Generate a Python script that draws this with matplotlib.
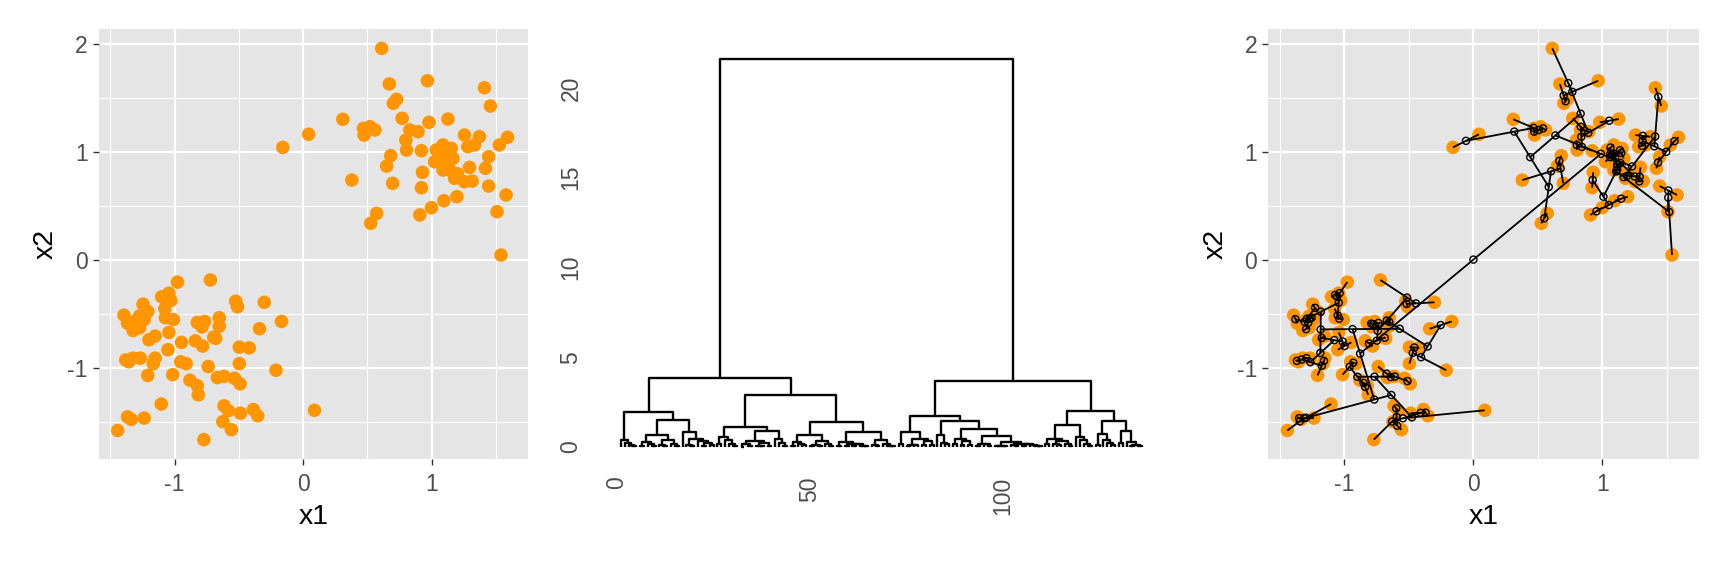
import numpy as np
import matplotlib
matplotlib.use("Agg")
import matplotlib.pyplot as plt
from matplotlib.collections import LineCollection

plt.rcParams["font.family"] = ["Liberation Sans", "DejaVu Sans"]
plt.rcParams["axes.unicode_minus"] = False

# ---- data (two groups of points, x1 / x2) ----
UP_X1 = [0.611, 0.670, 0.967, 1.410, 1.456, 0.727, 0.701, 0.309, 0.770, 1.126,
         0.979, 0.043, -0.158, 0.469, 0.520, 0.559, 0.474, 0.830, 0.894, 0.799,
         0.804, 0.920, 1.255, 1.371, 1.590, 1.526, 1.281, 1.333, 1.088, 1.152,
         1.036, 1.023, 1.088, 1.165, 1.088, 1.139, 1.178, 1.255, 1.315, 1.294,
         1.418, 1.443, 1.443, 1.578, 1.196, 1.095, 0.998, 0.907, 1.508, 0.572,
         0.526, 1.539, 0.379, 0.696, 0.650, 0.681, 0.920, 0.928, 1.060, 1.120,
         1.100, 1.200, 1.130, 1.070]
UP_X2 = [1.961, 1.631, 1.661, 1.596, 1.427, 1.489, 1.452, 1.304, 1.313, 1.306,
         1.276, 1.165, 1.044, 1.220, 1.235, 1.205, 1.158, 1.205, 1.189, 1.112,
         1.019, 1.013, 1.158, 1.143, 1.137, 1.066, 1.050, 1.066, 1.066, 1.035,
         1.019, 0.911, 0.973, 0.942, 0.834, 0.834, 0.757, 0.726, 0.732, 0.859,
         0.850, 0.957, 0.686, 0.603, 0.587, 0.550, 0.485, 0.418, 0.448, 0.433,
         0.341, 0.047, 0.741, 0.711, 0.871, 0.967, 0.670, 0.813, 0.990, 1.000,
         0.900, 0.800, 0.880, 0.940]

LO_X1 = [-0.977, -0.721, -1.100, -1.043, -1.028, -1.075, -1.245, -0.524, -0.510, -0.302,
         -1.393, -1.208, -1.271, -1.365, -1.322, -1.271, -1.236, -1.071, -1.009, -1.043,
         -0.823, -0.766, -0.786, -0.652, -0.652, -0.168, -0.339, -1.199, -1.151, -0.695,
         -0.946, -0.838, -0.781, -1.051, -0.496, -0.419, -1.379, -1.322, -1.265, -1.356,
         -1.151, -1.165, -0.952, -0.909, -0.738, -0.496, -1.208, -1.014, -0.880, -0.667,
         -0.615, -0.533, -0.490, -0.211, -0.823, -0.815, -1.103, 0.088, -0.615, -0.581,
         -0.487, -0.387, -0.353, -1.365, -1.336, -1.236, -1.442, -0.624, -0.558, -0.772,
         -0.680, -1.300]
LO_X2 = [-0.204, -0.184, -0.340, -0.306, -0.374, -0.450, -0.408, -0.381, -0.432, -0.391,
         -0.510, -0.476, -0.517, -0.585, -0.653, -0.626, -0.551, -0.534, -0.551, -0.670,
         -0.578, -0.568, -0.619, -0.534, -0.612, -0.568, -0.636, -0.738, -0.704, -0.714,
         -0.762, -0.748, -0.796, -0.830, -0.806, -0.813, -0.925, -0.908, -0.908, -0.942,
         -0.908, -0.959, -0.942, -0.959, -0.986, -0.959, -1.068, -1.061, -1.112, -1.088,
         -1.078, -1.095, -1.146, -1.020, -1.163, -1.248, -1.333, -1.391, -1.350, -1.395,
         -1.418, -1.384, -1.442, -1.452, -1.476, -1.463, -1.578, -1.497, -1.571, -1.663,
         -0.725, -0.560]

X_TICKS = [-1, 0, 1]
Y_TICKS = [-1, 0, 1, 2]
DENDRO_X_TICKS = [0, 50, 100]
DENDRO_Y_TICKS = [0, 5, 10, 15, 20]

ORANGE = "#FF9500"
pts = np.column_stack([UP_X1 + LO_X1, UP_X2 + LO_X2])
n = len(pts)


def ward_d2(p):
    """Agglomerative clustering, Ward (squared distances), Lance-Williams updates."""
    m = len(p)
    D = np.full((2 * m - 1, 2 * m - 1), np.inf)
    D[:m, :m] = ((p[:, None, :] - p[None, :, :]) ** 2).sum(-1)
    np.fill_diagonal(D, np.inf)
    size = np.zeros(2 * m - 1)
    size[:m] = 1
    active = list(range(m))
    merges = []
    for k in range(m - 1):
        sub = D[np.ix_(active, active)]
        a, b = np.unravel_index(np.argmin(sub), sub.shape)
        i, j = active[a], active[b]
        dij = D[i, j]
        new = m + k
        for q in active:
            if q in (i, j):
                continue
            nq = size[q]
            val = ((size[i] + nq) * D[q, i] + (size[j] + nq) * D[q, j] - nq * dij) / (size[i] + size[j] + nq)
            D[q, new] = D[new, q] = val
        size[new] = size[i] + size[j]
        active.remove(i)
        active.remove(j)
        active.append(new)
        # R-style ordering: singletons first, then older clusters
        i, j = sorted((i, j), key=lambda c: (c >= m, c))
        merges.append((i, j, np.sqrt(dij)))
    return merges, size


merges, sizes = ward_d2(pts)
children = {n + k: (i, j) for k, (i, j, h) in enumerate(merges)}
height = {n + k: h for k, (i, j, h) in enumerate(merges)}
root = n + len(merges) - 1
# bigger group on the left at the top split, as in the original
l, r = children[root]
if sizes[l] < sizes[r]:
    children[root] = (r, l)

# leaf order
order = []
stack = [root]
while stack:
    c = stack.pop()
    if c < n:
        order.append(c)
    else:
        l, r = children[c]
        stack.append(r)
        stack.append(l)
xpos = {leaf: k + 1 for k, leaf in enumerate(order)}
for c in range(n, root + 1):
    l, r = children[c]
    xpos[c] = (xpos[l] + xpos[r]) / 2
for c in range(n):
    height[c] = 0.0

# centroid of each node in data space
members = {c: [c] for c in range(n)}
cent = {c: pts[c] for c in range(n)}
for c in range(n, root + 1):
    l, r = children[c]
    members[c] = members[l] + members[r]
    cent[c] = pts[members[c]].mean(axis=0)

# ---- figure ----
W, H = 1728, 576
fig = plt.figure(figsize=(W / 100, H / 100), dpi=100)


def gg_axes(rect):
    ax = fig.add_axes(rect)
    ax.set_facecolor("#E5E5E5")
    for s in ax.spines.values():
        s.set_visible(False)
    ax.set_xlim(-1.591, 1.748)
    ax.set_ylim(-1.844, 2.143)
    ax.set_xticks(X_TICKS)
    ax.set_yticks(Y_TICKS)
    ax.set_xticks([-1.5, -0.5, 0.5, 1.5], minor=True)
    ax.set_yticks([-1.5, -0.5, 0.5, 1.5], minor=True)
    ax.grid(which="major", color="white", linewidth=1.6)
    ax.grid(which="minor", color="white", linewidth=0.8)
    ax.set_axisbelow(True)
    ax.tick_params(which="major", length=4.3, width=1.0, color="#333333",
                   labelcolor="#4D4D4D", labelsize=16.5, pad=3.5)
    ax.tick_params(axis="x", which="major", pad=5.5)
    ax.tick_params(which="minor", length=0)
    ax.set_xlabel("x1", fontsize=20.5, labelpad=6)
    ax.set_ylabel("x2", fontsize=20.5, labelpad=6)
    return ax


ax1 = gg_axes([98.5 / W, 1 - 459.2 / H, 429.4 / W, 430.5 / H])
ax1.scatter(pts[:, 0], pts[:, 1], s=95, color=ORANGE, edgecolors="none", zorder=3)

# dendrogram
ax2 = fig.add_axes([595 / W, 1 - 460 / H, 575 / W, 430 / H])
segs = []
for c in range(n, root + 1):
    l, r = children[c]
    h = height[c]
    segs.append([(xpos[l], height[l]), (xpos[l], h), (xpos[r], h), (xpos[r], height[r])])
ax2.add_collection(LineCollection(segs, colors="black", linewidths=1.7))
ax2.set_xlim(-5.70, 143.26)
ax2.set_ylim(-0.724, 23.23)
for s in ax2.spines.values():
    s.set_visible(False)
ax2.set_xticks(DENDRO_X_TICKS)
ax2.set_yticks(DENDRO_Y_TICKS)
ax2.tick_params(length=0, labelsize=16.5, labelcolor="#4D4D4D")
ax2.tick_params(axis="y", pad=9)
ax2.tick_params(axis="x", pad=12)
plt.setp(ax2.get_yticklabels(), rotation=90, va="center")
plt.setp(ax2.get_xticklabels(), rotation=90, ha="center", va="top")

# scatter with the clustering tree drawn through node centroids
ax3 = gg_axes([1268.1 / W, 1 - 459.2 / H, 430.9 / W, 430.5 / H])
ax3.scatter(pts[:, 0], pts[:, 1], s=95, color=ORANGE, edgecolors="none", zorder=3)
tree = []
for c in range(n, root + 1):
    l, r = children[c]
    tree.append([cent[l], cent[c]])
    tree.append([cent[r], cent[c]])
ax3.add_collection(LineCollection(tree, colors="black", linewidths=1.3, zorder=4))
nodes = np.array([cent[c] for c in range(n, root + 1)])
ax3.scatter(nodes[:, 0], nodes[:, 1], s=26, facecolors="none", edgecolors="black",
            linewidths=1.0, zorder=5)

fig.savefig("out.png", dpi=100)
